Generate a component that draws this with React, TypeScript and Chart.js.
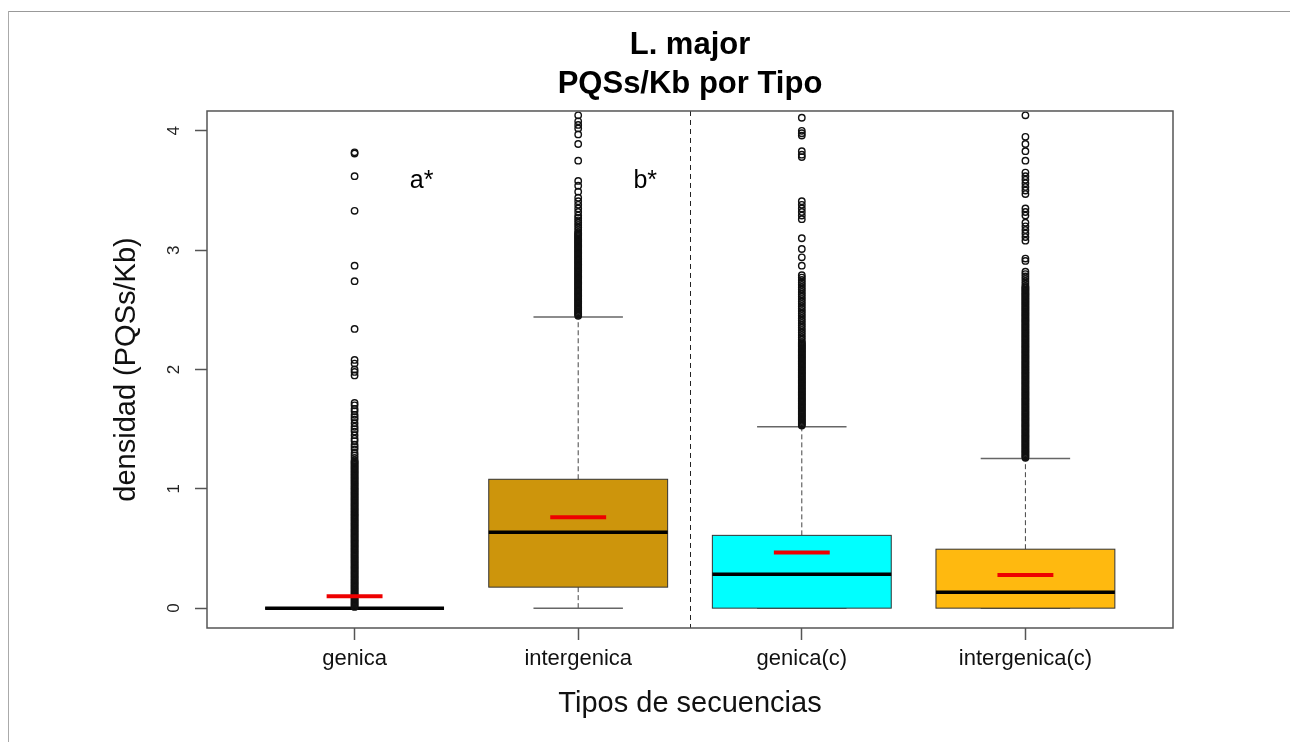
import { useEffect, useRef } from 'react';
import { Chart, registerables } from 'chart.js';

Chart.register(...registerables);

// Sequence types on the x axis
const categories = ['genica', 'intergenica', 'genica(c)', 'intergenica(c)'];
const boxColors = ['#FFFFFF', '#CD950C', '#00FFFF', '#FFB90F'];

// Five-number summaries and means (PQSs/Kb)
const lowerWhisker = [0, 0, 0, 0];
const firstQuartile = [0, 0.176, 0, 0];
const medians = [0, 0.635, 0.284, 0.134];
const thirdQuartile = [0, 1.08, 0.61, 0.494];
const upperWhisker = [0, 2.44, 1.52, 1.255];
const means = [0.1, 0.762, 0.467, 0.277];

// Outlying densities per sequence type
const genicaOutliers = [
  0.01, 0.02, 0.03, 0.04, 0.05, 0.06, 0.07, 0.08, 0.09, 0.1,
  0.11, 0.12, 0.13, 0.14, 0.15, 0.16, 0.17, 0.18, 0.19, 0.2,
  0.21, 0.22, 0.23, 0.24, 0.25, 0.26, 0.27, 0.28, 0.29, 0.3,
  0.31, 0.32, 0.33, 0.34, 0.35, 0.36, 0.37, 0.38, 0.39, 0.4,
  0.41, 0.42, 0.43, 0.44, 0.45, 0.46, 0.47, 0.48, 0.49, 0.5,
  0.51, 0.52, 0.53, 0.54, 0.55, 0.56, 0.57, 0.58, 0.59, 0.6,
  0.61, 0.62, 0.63, 0.64, 0.65, 0.66, 0.67, 0.68, 0.69, 0.7,
  0.71, 0.72, 0.73, 0.74, 0.75, 0.76, 0.77, 0.78, 0.79, 0.8,
  0.81, 0.82, 0.83, 0.84, 0.85, 0.86, 0.87, 0.88, 0.89, 0.9,
  0.91, 0.92, 0.93, 0.94, 0.95, 0.96, 0.97, 0.98, 0.99, 1.0,
  1.01, 1.02, 1.03, 1.04, 1.05, 1.06, 1.07, 1.08, 1.09, 1.1,
  1.11, 1.12, 1.13, 1.14, 1.15, 1.16, 1.17, 1.18, 1.19, 1.2,
  1.21, 1.22, 1.23, 1.24, 1.26, 1.28, 1.3, 1.33, 1.35, 1.37,
  1.4, 1.42, 1.45, 1.48, 1.5, 1.52, 1.55, 1.58, 1.6, 1.62,
  1.65, 1.67, 1.7, 1.72, 1.95, 1.98, 2.0, 2.05, 2.08, 2.34,
  2.74, 2.87, 3.33, 3.62, 3.81, 3.82,
];
const intergenicaOutliers = [
  2.45, 2.46, 2.47, 2.48, 2.49, 2.5, 2.51, 2.52, 2.53, 2.54,
  2.55, 2.56, 2.57, 2.58, 2.59, 2.6, 2.61, 2.62, 2.63, 2.64,
  2.65, 2.66, 2.67, 2.68, 2.69, 2.7, 2.71, 2.72, 2.73, 2.74,
  2.75, 2.76, 2.77, 2.78, 2.79, 2.8, 2.81, 2.82, 2.83, 2.84,
  2.85, 2.86, 2.87, 2.88, 2.89, 2.9, 2.91, 2.92, 2.93, 2.94,
  2.95, 2.96, 2.97, 2.98, 2.99, 3.0, 3.01, 3.02, 3.03, 3.04,
  3.05, 3.06, 3.07, 3.08, 3.09, 3.1, 3.11, 3.12, 3.13, 3.14,
  3.15, 3.17, 3.19, 3.21, 3.23, 3.25, 3.27, 3.29, 3.32, 3.35,
  3.38, 3.41, 3.44, 3.49, 3.54, 3.58, 3.75, 3.89, 3.97, 4.02,
  4.05, 4.08, 4.13,
];
const genicaCOutliers = [
  1.53, 1.54, 1.55, 1.56, 1.57, 1.58, 1.59, 1.6, 1.61, 1.62,
  1.63, 1.64, 1.65, 1.66, 1.67, 1.68, 1.69, 1.7, 1.71, 1.72,
  1.73, 1.74, 1.75, 1.76, 1.77, 1.78, 1.79, 1.8, 1.81, 1.82,
  1.83, 1.84, 1.85, 1.86, 1.87, 1.88, 1.89, 1.9, 1.91, 1.92,
  1.93, 1.94, 1.95, 1.96, 1.97, 1.98, 1.99, 2.0, 2.01, 2.02,
  2.03, 2.04, 2.05, 2.06, 2.07, 2.08, 2.09, 2.1, 2.11, 2.12,
  2.13, 2.14, 2.15, 2.16, 2.17, 2.18, 2.19, 2.2, 2.21, 2.22,
  2.23, 2.25, 2.27, 2.29, 2.31, 2.33, 2.35, 2.37, 2.39, 2.41,
  2.43, 2.45, 2.47, 2.49, 2.51, 2.53, 2.55, 2.57, 2.59, 2.61,
  2.63, 2.65, 2.67, 2.69, 2.71, 2.73, 2.75, 2.77, 2.79, 2.87,
  2.94, 3.01, 3.1, 3.26, 3.29, 3.32, 3.35, 3.38, 3.41, 3.78,
  3.8, 3.83, 3.96, 3.98, 4.0, 4.11,
];
const intergenicaCOutliers = [
  1.26, 1.27, 1.28, 1.29, 1.3, 1.31, 1.32, 1.33, 1.34, 1.35,
  1.36, 1.37, 1.38, 1.39, 1.4, 1.41, 1.42, 1.43, 1.44, 1.45,
  1.46, 1.47, 1.48, 1.49, 1.5, 1.51, 1.52, 1.53, 1.54, 1.55,
  1.56, 1.57, 1.58, 1.59, 1.6, 1.61, 1.62, 1.63, 1.64, 1.65,
  1.66, 1.67, 1.68, 1.69, 1.7, 1.71, 1.72, 1.73, 1.74, 1.75,
  1.76, 1.77, 1.78, 1.79, 1.8, 1.81, 1.82, 1.83, 1.84, 1.85,
  1.86, 1.87, 1.88, 1.89, 1.9, 1.91, 1.92, 1.93, 1.94, 1.95,
  1.96, 1.97, 1.98, 1.99, 2.0, 2.01, 2.02, 2.03, 2.04, 2.05,
  2.06, 2.07, 2.08, 2.09, 2.1, 2.11, 2.12, 2.13, 2.14, 2.15,
  2.16, 2.17, 2.18, 2.19, 2.2, 2.21, 2.22, 2.23, 2.24, 2.25,
  2.26, 2.27, 2.28, 2.29, 2.3, 2.31, 2.32, 2.33, 2.34, 2.35,
  2.36, 2.37, 2.38, 2.39, 2.4, 2.41, 2.42, 2.43, 2.44, 2.45,
  2.46, 2.47, 2.48, 2.49, 2.5, 2.51, 2.52, 2.53, 2.54, 2.55,
  2.56, 2.57, 2.58, 2.59, 2.6, 2.61, 2.62, 2.63, 2.64, 2.65,
  2.66, 2.67, 2.68, 2.69, 2.7, 2.72, 2.74, 2.76, 2.78, 2.8,
  2.82, 2.91, 2.93, 3.08, 3.11, 3.14, 3.17, 3.2, 3.23, 3.29,
  3.32, 3.35, 3.47, 3.5, 3.53, 3.56, 3.59, 3.62, 3.65, 3.75,
  3.83, 3.89, 3.95, 4.13,
];
const outlierGroups = [genicaOutliers, intergenicaOutliers, genicaCOutliers, intergenicaCOutliers];

// Axis settings
const yTicks = [0, 1, 2, 3, 4];
const yMin = -0.1664;
const yMax = 4.1664;
const xMin = 0.34;
const xMax = 4.66;

// Significance letters and the divider between plain and (c) groups
const letterTexts = ['a*', 'b*'];
const letterX = [1.3, 2.3];
const letterY = [3.58, 3.58];
const dividerX = 2.5;

const FONT = '"Liberation Sans", Arial, Helvetica, sans-serif';

const boxPlugin = {
  id: 'boxes',
  beforeDatasetsDraw(chart: any) {
    const { ctx, scales } = chart;
    const x = scales.x;
    const y = scales.y;
    const seg = (x1: number, y1: number, x2: number, y2: number) => {
      ctx.beginPath();
      ctx.moveTo(x1, y1);
      ctx.lineTo(x2, y2);
      ctx.stroke();
    };
    ctx.save();
    categories.forEach((_, i) => {
      const c = i + 1;
      const px = x.getPixelForValue(c);
      const left = x.getPixelForValue(c - 0.4);
      const right = x.getPixelForValue(c + 0.4);
      const capL = x.getPixelForValue(c - 0.2);
      const capR = x.getPixelForValue(c + 0.2);
      const yLo = y.getPixelForValue(lowerWhisker[i]);
      const yQ1 = y.getPixelForValue(firstQuartile[i]);
      const yMed = y.getPixelForValue(medians[i]);
      const yQ3 = y.getPixelForValue(thirdQuartile[i]);
      const yHi = y.getPixelForValue(upperWhisker[i]);

      // whiskers
      ctx.strokeStyle = '#444';
      ctx.lineWidth = 1;
      ctx.setLineDash([5, 3]);
      seg(px, yQ3, px, yHi);
      seg(px, yQ1, px, yLo);
      ctx.setLineDash([]);
      ctx.strokeStyle = '#666';
      ctx.lineWidth = 1.5;
      seg(capL, yHi, capR, yHi);
      seg(capL, yLo, capR, yLo);

      // box
      ctx.fillStyle = boxColors[i];
      ctx.fillRect(left, yQ3, right - left, yQ1 - yQ3);
      ctx.strokeStyle = '#333';
      ctx.lineWidth = 1;
      ctx.strokeRect(left, yQ3, right - left, yQ1 - yQ3);

      // median
      ctx.strokeStyle = '#000';
      ctx.lineWidth = 3.5;
      seg(left, yMed, right, yMed);
    });
    ctx.restore();
  },
  afterDatasetsDraw(chart: any) {
    const { ctx, scales, chartArea } = chart;
    const x = scales.x;
    const y = scales.y;
    ctx.save();

    // means
    ctx.strokeStyle = '#EE0000';
    ctx.lineWidth = 4;
    means.forEach((m, i) => {
      const c = i + 1;
      const py = y.getPixelForValue(m);
      ctx.beginPath();
      ctx.moveTo(x.getPixelForValue(c - 0.125), py);
      ctx.lineTo(x.getPixelForValue(c + 0.125), py);
      ctx.stroke();
    });

    // divider
    const dx = Math.round(x.getPixelForValue(dividerX)) + 0.5;
    ctx.strokeStyle = '#222';
    ctx.lineWidth = 1;
    ctx.setLineDash([5, 4]);
    ctx.beginPath();
    ctx.moveTo(dx, chartArea.top);
    ctx.lineTo(dx, chartArea.bottom);
    ctx.stroke();
    ctx.setLineDash([]);

    // letters
    ctx.fillStyle = '#000';
    ctx.font = `25px ${FONT}`;
    ctx.textAlign = 'center';
    ctx.textBaseline = 'middle';
    letterTexts.forEach((t, i) => {
      ctx.fillText(t, x.getPixelForValue(letterX[i]), y.getPixelForValue(letterY[i]));
    });

    // plot frame
    ctx.strokeStyle = '#555';
    ctx.lineWidth = 1.5;
    ctx.strokeRect(chartArea.left, chartArea.top, chartArea.right - chartArea.left, chartArea.bottom - chartArea.top);
    ctx.restore();
  },
};

export default function App() {
  const canvasRef = useRef<HTMLCanvasElement | null>(null);

  useEffect(() => {
    const canvas = canvasRef.current;
    if (!canvas) return;
    Chart.defaults.font.family = FONT;
    const chart = new Chart(canvas, {
      type: 'scatter',
      data: {
        datasets: outlierGroups.map((vals, i) => ({
          label: categories[i],
          data: vals.map((v) => ({ x: i + 1, y: v })),
          pointStyle: 'circle',
          pointRadius: 3.2,
          pointHoverRadius: 3.2,
          pointBorderWidth: 1.4,
          pointBorderColor: '#111',
          pointBackgroundColor: 'rgba(0,0,0,0)',
        })),
      },
      options: {
        responsive: false,
        animation: false,
        devicePixelRatio: 1,
        events: [],
        layout: { padding: { left: 0, right: 117, top: 0, bottom: 0 } },
        plugins: {
          legend: { display: false },
          tooltip: { enabled: false },
          title: {
            display: true,
            fullSize: false,
            text: ['L. major', 'PQSs/Kb por Tipo'],
            color: '#000',
            font: { size: 31, weight: 'bold', lineHeight: 1.258 },
            padding: { top: 25.8, bottom: 7.2 },
          },
        },
        scales: {
          x: {
            type: 'linear',
            min: xMin,
            max: xMax,
            afterBuildTicks: (s: any) => {
              s.ticks = categories.map((_, i) => ({ value: i + 1 }));
            },
            afterFit: (s: any) => {
              s.height = 114;
            },
            ticks: {
              callback: (v: any) => categories[Number(v) - 1],
              font: { size: 22 },
              color: '#111',
              padding: 6,
              autoSkip: false,
              maxRotation: 0,
            },
            grid: { drawOnChartArea: false, drawTicks: true, tickLength: 12, tickColor: '#555', tickWidth: 1.5 },
            border: { display: false },
            title: {
              display: true,
              text: 'Tipos de secuencias',
              color: '#111',
              font: { size: 29 },
              padding: { top: 0, bottom: 20.6 },
            },
          },
          y: {
            type: 'linear',
            min: yMin,
            max: yMax,
            afterBuildTicks: (s: any) => {
              s.ticks = yTicks.map((v) => ({ value: v }));
            },
            afterFit: (s: any) => {
              s.width = 207;
            },
            ticks: {
              minRotation: 90,
              maxRotation: 90,
              crossAlign: 'center',
              padding: 16,
              font: { size: 17 },
              color: '#222',
            },
            grid: { drawOnChartArea: false, drawTicks: true, tickLength: 12, tickColor: '#555', tickWidth: 1.5 },
            border: { display: false },
            title: {
              display: true,
              text: 'densidad (PQSs/Kb)',
              color: '#111',
              font: { size: 29 },
              padding: { top: 109.6, bottom: 0 },
            },
          },
        },
      },
      plugins: [boxPlugin],
    } as any);
    return () => chart.destroy();
  }, []);

  return (
    <div style={{ position: 'absolute', left: 0, top: 0, width: 1290, height: 742, background: '#fff', overflow: 'hidden' }}>
      <div style={{ position: 'absolute', left: 8, top: 11, width: 1282, height: 1, background: '#999' }} />
      <div style={{ position: 'absolute', left: 8, top: 11, width: 1, height: 731, background: '#aaa' }} />
      <canvas ref={canvasRef} width={1290} height={742} style={{ position: 'absolute', left: 0, top: 0, display: 'block' }} />
    </div>
  );
}
